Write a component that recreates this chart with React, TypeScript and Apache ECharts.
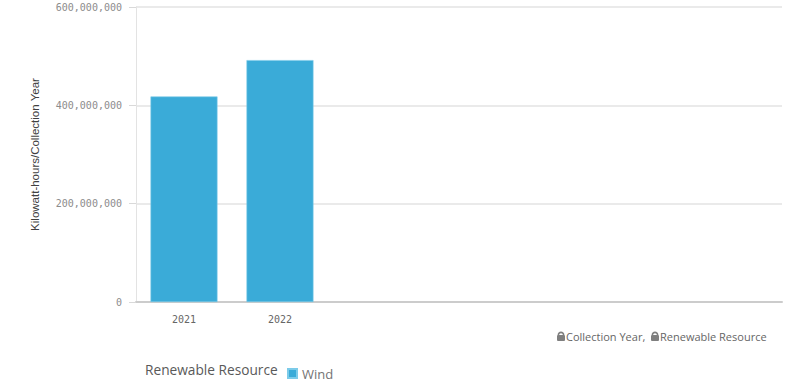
import React, { useEffect, useRef } from "react";
import * as echarts from "echarts";

const categories: string[] = ["2021", "2022"];
const windValues: number[] = [418000000, 492000000];
const seriesName = "Wind";
const legendTitle = "Renewable Resource";
const yAxisTitle = "Kilowatt-hours/Collection Year";
const lockLabels: string[] = ["Collection Year,", "Renewable Resource"];

const BAR_COLOR = "#3aabd8";

function lock(x: number, y: number) {
  return {
    type: "group",
    x,
    y,
    silent: true,
    children: [
      {
        type: "arc",
        shape: { cx: 4, cy: 4, r: 2.6, startAngle: Math.PI, endAngle: 2 * Math.PI },
        style: { stroke: "#7f7f7f", lineWidth: 1.6, fill: "none" },
      },
      {
        type: "rect",
        shape: { x: 0, y: 4, width: 8, height: 6, r: 1 },
        style: { fill: "#7f7f7f" },
      },
    ],
  };
}

export default function App() {
  const ref = useRef<HTMLDivElement>(null);
  useEffect(() => {
    if (!ref.current) return;
    const chart = echarts.init(ref.current, undefined, { renderer: "svg" });
    const labelOf = (v: number) => {
      const i = Math.round((v - 0.5) * 1000) / 1000;
      return Number.isInteger(i) && categories[i] !== undefined ? categories[i] : "";
    };
    chart.setOption({
      animation: false,
      backgroundColor: "#ffffff",
      grid: { left: 136, top: 7, width: 646, height: 295, containLabel: false },
      xAxis: {
        type: "value",
        min: 0,
        max: 6.73,
        interval: 0.5,
        splitLine: { show: false },
        axisTick: { show: false },
        axisLine: { show: true, lineStyle: { color: "#cccccc", width: 2 } },
        axisLabel: {
          formatter: (v: number) => labelOf(v),
          color: "#666666",
          fontFamily: "DejaVu Sans Mono",
          fontSize: 10,
          margin: 12,
          showMaxLabel: false,
        },
      },
      yAxis: {
        type: "value",
        min: 0,
        max: 600000000,
        interval: 200000000,
        axisLine: { show: true, lineStyle: { color: "#e3e3e3", width: 1 } },
        axisTick: { show: true, length: 7, lineStyle: { color: "#d9d9d9", width: 1 } },
        splitLine: { show: true, lineStyle: { color: "#e3e3e3", width: 1.5 } },
        axisLabel: {
          formatter: (v: number) => v.toLocaleString("en-US"),
          color: "#8c8c8c",
          fontFamily: "DejaVu Sans Mono",
          fontSize: 10,
          margin: 14,
        },
      },
      legend: {
        show: true,
        left: 282,
        top: 362,
        itemWidth: 9,
        itemHeight: 9,
        itemGap: 10,
        icon: "rect",
        textStyle: { color: "#737373", fontSize: 13, fontFamily: "Open Sans" },
        data: [seriesName],
      },
      series: [
        {
          name: seriesName,
          type: "bar",
          barWidth: 67,
          data: windValues.map((v, i) => [i + 0.5, v]),
          itemStyle: { color: BAR_COLOR, borderColor: "#7ccbe9", borderWidth: 0.6 },
        },
      ],
      graphic: [
        {
          type: "text",
          x: 35,
          y: 154.5,
          rotation: Math.PI / 2,
          style: {
            text: yAxisTitle,
            fill: "#404040",
            font: '11.5px "Liberation Sans"',
            align: "center",
            verticalAlign: "middle",
          },
        },
        {
          type: "text",
          x: 145,
          y: 369,
          style: {
            text: legendTitle,
            fill: "#595959",
            font: '13.7px "Open Sans"',
            align: "left",
            verticalAlign: "middle",
          },
        },
        lock(557, 331),
        {
          type: "text",
          x: 566,
          y: 336,
          style: {
            text: lockLabels[0],
            fill: "#666666",
            font: '11px "Open Sans"',
            align: "left",
            verticalAlign: "middle",
          },
        },
        lock(651, 331),
        {
          type: "text",
          x: 660,
          y: 336,
          style: {
            text: lockLabels[1],
            fill: "#666666",
            font: '11px "Open Sans"',
            align: "left",
            verticalAlign: "middle",
          },
        },
      ],
    });
    return () => chart.dispose();
  }, []);
  return (
    <div
      ref={ref}
      style={{ position: "fixed", left: 0, top: 0, width: 795, height: 381, background: "#fff" }}
    />
  );
}
